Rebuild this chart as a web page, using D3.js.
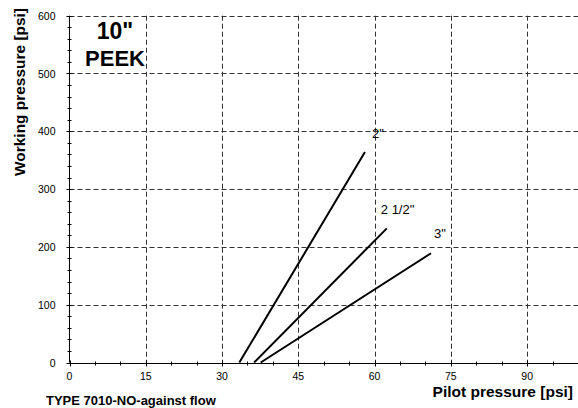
<!DOCTYPE html>
<html>
<head>
<meta charset="utf-8">
<script src="https://cdn.jsdelivr.net/npm/d3@7"></script>
<style>
  html, body { margin: 0; padding: 0; background: #fff; }
  svg { display: block; font-family: "Liberation Sans", Arial, sans-serif; }
</style>
</head>
<body>
<svg id="chart" width="578" height="408"></svg>
<script>
// Pilot pressure (psi) vs working pressure (psi), one line per valve size
const sizes = ["2\"", "2 1/2\"", "3\""];
const pilotStart = [33.4, 36.3, 37.6];
const pilotEnd = [58.1, 62.4, 71.1];
const workStart = [0, 0, 0];
const workEnd = [364, 232, 189];

const xTicks = [0, 15, 30, 45, 60, 75, 90];
const yTicks = [0, 100, 200, 300, 400, 500, 600];

const svg = d3.select("#chart");
const x = d3.scaleLinear().domain([0, 100]).range([69.5, 578]);
const y = d3.scaleLinear().domain([0, 600]).range([362.5, 15.7]);

const gridColor = "#333";

// grid lines
svg.append("g").selectAll("line.gx")
  .data(xTicks.filter(d => d > 0))
  .join("line")
  .attr("x1", d => Math.round(x(d)) + 0.5).attr("x2", d => Math.round(x(d)) + 0.5)
  .attr("y1", y(600)).attr("y2", y(0))
  .attr("stroke", gridColor).attr("stroke-width", 1).attr("stroke-dasharray", "5,3");
svg.append("g").selectAll("line.gy")
  .data(yTicks.filter(d => d > 0))
  .join("line")
  .attr("x1", x(0)).attr("x2", x(100))
  .attr("y1", d => Math.round(y(d)) + 0.5).attr("y2", d => Math.round(y(d)) + 0.5)
  .attr("stroke", gridColor).attr("stroke-width", 1).attr("stroke-dasharray", "5,3");

// x axis with minor ticks every 5
const xAxis = svg.append("g").attr("transform", `translate(0,${Math.round(y(0)) + 0.5})`);
xAxis.append("line").attr("x1", x(0)).attr("x2", x(100)).attr("stroke", "#000");
xAxis.selectAll("line.minor").data(d3.range(5, 100, 5).filter(v => v % 15 !== 0))
  .join("line").attr("class", "minor")
  .attr("x1", d => Math.round(x(d)) + 0.5).attr("x2", d => Math.round(x(d)) + 0.5)
  .attr("y1", -2).attr("y2", 2).attr("stroke", "#000");
xAxis.selectAll("line.major").data(xTicks)
  .join("line").attr("class", "major")
  .attr("x1", d => Math.round(x(d)) + 0.5).attr("x2", d => Math.round(x(d)) + 0.5)
  .attr("y1", -3).attr("y2", 3).attr("stroke", "#000");
xAxis.selectAll("text").data(xTicks).join("text")
  .attr("x", d => x(d)).attr("y", 16.5)
  .attr("text-anchor", "middle").attr("font-size", 10.5).attr("fill", "#000")
  .text(d => d);

// y axis with minor ticks every 20
const yAxis = svg.append("g").attr("transform", `translate(${Math.round(x(0)) - 0.5},0)`);
yAxis.append("line").attr("y1", y(0)).attr("y2", y(600)).attr("stroke", "#000");
yAxis.selectAll("line.minor").data(d3.range(20, 600, 20).filter(v => v % 100 !== 0))
  .join("line").attr("class", "minor")
  .attr("y1", d => Math.round(y(d)) + 0.5).attr("y2", d => Math.round(y(d)) + 0.5)
  .attr("x1", -2).attr("x2", 2).attr("stroke", "#000");
yAxis.selectAll("line.major").data(yTicks)
  .join("line").attr("class", "major")
  .attr("y1", d => Math.round(y(d)) + 0.5).attr("y2", d => Math.round(y(d)) + 0.5)
  .attr("x1", -3).attr("x2", 3).attr("stroke", "#000");
yAxis.selectAll("text").data(yTicks).join("text")
  .attr("x", -14).attr("y", d => y(d) + 4)
  .attr("text-anchor", "end").attr("font-size", 10.5).attr("fill", "#000")
  .text(d => d);

// characteristic lines
const series = sizes.map((s, i) => ({
  name: s,
  pts: [[pilotStart[i], workStart[i]], [pilotEnd[i], workEnd[i]]]
}));
svg.append("g").selectAll("line.series").data(series).join("line")
  .attr("x1", d => x(d.pts[0][0])).attr("y1", d => y(d.pts[0][1]))
  .attr("x2", d => x(d.pts[1][0])).attr("y2", d => y(d.pts[1][1]))
  .attr("stroke", "#000").attr("stroke-width", 2);

// size labels near line ends
const labelDx = [7, -6, 3];
const labelDy = [-14, -14, -15];
svg.append("g").selectAll("text").data(series).join("text")
  .attr("x", (d, i) => x(d.pts[1][0]) + labelDx[i])
  .attr("y", (d, i) => y(d.pts[1][1]) + labelDy[i])
  .attr("font-size", 13).attr("fill", "#000")
  .text(d => d.name);

// titles
svg.append("text").attr("x", 115).attr("y", 39).attr("text-anchor", "middle")
  .attr("font-size", 23).attr("font-weight", "bold").text("10\"");
svg.append("text").attr("x", 115).attr("y", 66).attr("text-anchor", "middle")
  .attr("font-size", 22).attr("font-weight", "bold").text("PEEK");

svg.append("text").attr("transform", "translate(25,92) rotate(-90)")
  .attr("text-anchor", "middle").attr("font-size", 14.5).attr("font-weight", "bold")
  .attr("textLength", 168).attr("lengthAdjust", "spacingAndGlyphs")
  .text("Working pressure [psi]");
svg.append("text").attr("x", 573).attr("y", 397).attr("text-anchor", "end")
  .attr("font-size", 15.5).attr("font-weight", "bold").text("Pilot pressure [psi]");
svg.append("text").attr("x", 46).attr("y", 405)
  .attr("font-size", 13).attr("font-weight", "bold").text("TYPE 7010-NO-against flow");
</script>
</body>
</html>
